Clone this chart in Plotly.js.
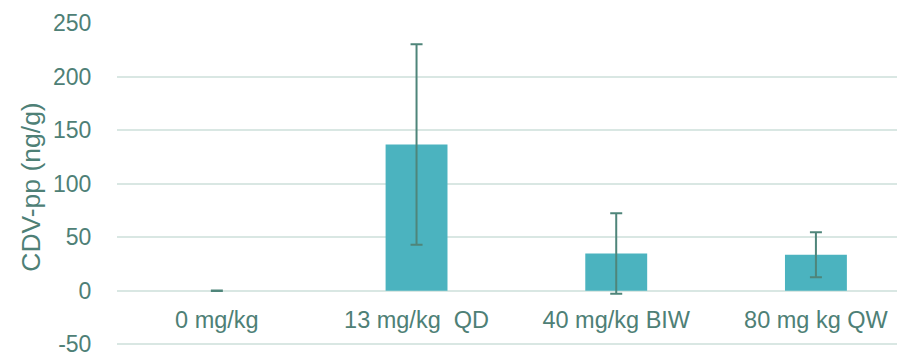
<!DOCTYPE html>
<html>
<head>
<meta charset="utf-8">
<script src="https://cdn.plot.ly/plotly-3.0.1.min.js"></script>
<style>html,body{margin:0;padding:0;background:#fff;}#chart{width:897px;height:354px;}</style>
</head>
<body>
<div id="chart"></div>
<script>
const categories = ["0 mg/kg", "13 mg/kg  QD", "40 mg/kg BIW", "80 mg kg QW"];
const values = [0.1, 136.6, 34.9, 33.6];
const errors = [0.2, 93.6, 37.6, 21.0];
const yTickVals = [-50, 0, 50, 100, 150, 200, 250];
const yTickText = ["-50", "0", "50", "100", "150", "200", "250"];

const textColor = "#4E8076";
const fontFam = "Liberation Sans, Arial, sans-serif";
const yMin = -56.2, yMax = 250;
const trace = {
  type: "bar",
  x: categories,
  y: values,
  width: 0.31,
  marker: {color: "#4BB3BF", line: {width: 0}},
  error_y: {type: "data", array: errors, visible: true, color: "#4F857A", thickness: 2, width: 6},
  hoverinfo: "skip"
};
const layout = {
  width: 897, height: 354,
  margin: {l: 117, r: 0, t: 23, b: 3, pad: 0},
  paper_bgcolor: "#ffffff", plot_bgcolor: "#ffffff",
  showlegend: false,
  font: {family: fontFam, color: textColor},
  xaxis: {
    type: "category",
    range: [-0.5, 3.406],
    anchor: "free",
    position: (0 - yMin) / (yMax - yMin),
    showgrid: false, showline: false, zeroline: false,
    ticks: "outside", ticklen: 8, tickcolor: "rgba(0,0,0,0)",
    ticklabeloverflow: "allow",
    tickfont: {size: 23.5, color: textColor, family: fontFam}
  },
  yaxis: {
    range: [yMin, yMax],
    tickvals: yTickVals, ticktext: yTickText,
    showgrid: true, gridcolor: "#D9E7E3", gridwidth: 2,
    zeroline: true, zerolinecolor: "#D9E7E3", zerolinewidth: 2,
    showline: false,
    ticks: "outside", ticklen: 20, tickcolor: "rgba(0,0,0,0)",
    ticklabeloverflow: "allow",
    tickfont: {size: 23, color: textColor, family: fontFam},
    title: {text: "CDV-pp (ng/g)", font: {size: 26.5, color: textColor, family: fontFam}, standoff: 4}
  }
};
Plotly.newPlot("chart", [trace], layout, {staticPlot: true, displayModeBar: false});
</script>
</body>
</html>
